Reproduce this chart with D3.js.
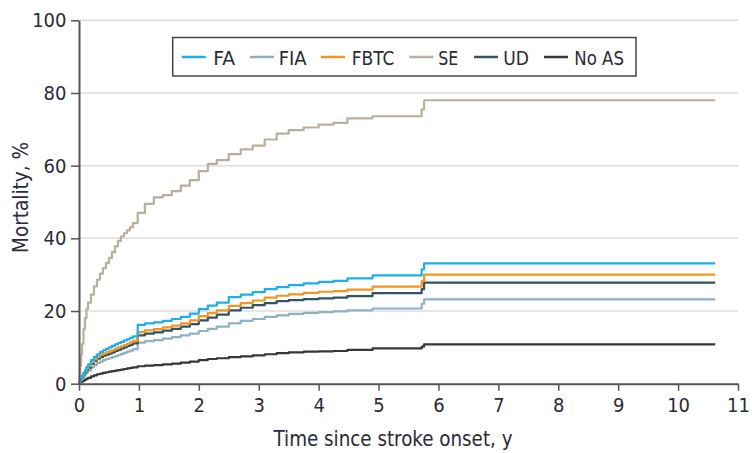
<!DOCTYPE html>
<html>
<head>
<meta charset="utf-8">
<script src="https://cdn.jsdelivr.net/npm/d3@7"></script>
<style>
  body { margin: 0; background: #ffffff; }
  svg { display: block; }
  text { font-family: "Liberation Sans Narrow", "DejaVu Sans Condensed", "Liberation Sans", Arial, sans-serif; fill: #2a2a38; }
</style>
</head>
<body>
<svg id="chart" width="752" height="453"></svg>
<script>
// Cumulative mortality (%) by time since stroke onset (years), step estimates
const years = [0, 0.01, 0.02, 0.035, 0.05, 0.075, 0.1, 0.125, 0.15, 0.2, 0.25, 0.3, 0.35, 0.4, 0.45,
  0.5, 0.55, 0.6, 0.65, 0.7, 0.75, 0.8, 0.85, 0.9, 0.98,
  1.1, 1.25, 1.4, 1.55, 1.7, 1.85, 2.0, 2.15, 2.3, 2.5, 2.7, 2.9, 3.1, 3.3, 3.5, 3.75,
  4.0, 4.25, 4.48, 4.9, 5.72, 5.76, 10.62];

const faValues = [0, 0.5, 1.0, 1.6, 2.2, 3.0, 3.8, 4.6, 5.3, 6.5, 7.4, 8.1, 8.7, 9.2, 9.6,
  10.0, 10.4, 10.8, 11.2, 11.5, 11.9, 12.2, 12.6, 13.0, 16.2,
  16.6, 16.9, 17.3, 17.8, 18.4, 19.3, 20.5, 21.5, 22.3, 23.8, 24.5, 25.2, 26.0, 26.6, 27.1, 27.6,
  28.0, 28.3, 29.0, 29.8, 31.5, 33.1, 33.1];

const fiaValues = [0, 0.3, 0.6, 1.0, 1.4, 2.0, 2.6, 3.1, 3.6, 4.5, 5.1, 5.7, 6.1, 6.5, 6.8,
  7.0, 7.3, 7.6, 7.9, 8.2, 8.5, 8.8, 9.1, 9.5, 11.3,
  11.7, 12.0, 12.4, 12.8, 13.3, 13.8, 14.5, 15.1, 15.7, 16.6, 17.3, 17.8, 18.4, 18.8, 19.2, 19.5,
  19.7, 19.9, 20.2, 20.7, 22.0, 23.2, 23.2];

const fbtcValues = [0, 0.45, 0.9, 1.4, 2.0, 2.8, 3.5, 4.2, 4.8, 5.9, 6.7, 7.4, 7.9, 8.3, 8.6,
  8.9, 9.2, 9.6, 10.0, 10.3, 10.6, 11.0, 11.4, 11.8, 14.2,
  14.7, 15.0, 15.5, 16.0, 16.6, 17.4, 18.6, 19.4, 20.2, 21.4, 22.2, 22.9, 23.7, 24.2, 24.6, 25.0,
  25.3, 25.5, 25.9, 26.7, 28.2, 30.0, 30.0];

const seValues = [0, 2.5, 5.0, 8.0, 11.0, 15.0, 18.0, 20.5, 22.3, 24.5, 26.8, 28.6, 30.3, 31.8, 33.2,
  34.6, 36.2, 37.8, 39.3, 40.5, 41.4, 42.2, 43.0, 44.2, 47.0,
  49.5, 51.3, 51.9, 53.0, 54.5, 56.0, 58.5, 60.5, 61.5, 63.2, 64.5, 65.5, 67.2, 68.8, 69.8, 70.5,
  71.3, 71.8, 73.0, 73.6, 75.5, 78.0, 78.0];

const udValues = [0, 0.4, 0.8, 1.3, 1.8, 2.5, 3.2, 3.8, 4.4, 5.5, 6.3, 6.9, 7.3, 7.7, 8.0,
  8.3, 8.6, 9.0, 9.3, 9.7, 10.0, 10.4, 10.7, 11.1, 13.3,
  13.8, 14.1, 14.6, 15.1, 15.7, 16.4, 17.4, 18.2, 19.0, 20.2, 20.9, 21.6, 22.2, 22.7, 23.0, 23.3,
  23.5, 23.7, 24.1, 24.9, 26.0, 27.8, 27.8];

const noAsValues = [0, 0.15, 0.3, 0.45, 0.6, 0.85, 1.1, 1.35, 1.6, 2.0, 2.3, 2.6, 2.8, 3.0, 3.15,
  3.3, 3.45, 3.6, 3.75, 3.9, 4.05, 4.2, 4.35, 4.5, 4.8,
  5.0, 5.1, 5.3, 5.5, 5.8, 6.1, 6.5, 6.8, 7.0, 7.3, 7.5, 7.8, 8.1, 8.4, 8.6, 8.8,
  8.9, 9.0, 9.3, 9.7, 10.2, 10.8, 10.8];

const seriesNames = ["FA", "FIA", "FBTC", "SE", "UD", "No AS"];
const seriesValues = [faValues, fiaValues, fbtcValues, seValues, udValues, noAsValues];
const seriesColors = ["#1cb0ea", "#8eb1c4", "#f7941e", "#b9af9f", "#2f5467", "#3a3636"];

const xTicks = [0, 1, 2, 3, 4, 5, 6, 7, 8, 9, 10, 11];
const yTicks = [0, 20, 40, 60, 80, 100];

const svg = d3.select("#chart");

const x = d3.scaleLinear().domain([0, 11]).range([79, 738]);
const y = d3.scaleLinear().domain([0, 100]).range([383.7, 20.3]);

// Horizontal gridlines
svg.append("g")
  .selectAll("line")
  .data(yTicks.filter(d => d > 0))
  .join("line")
  .attr("x1", x(0))
  .attr("x2", x(11))
  .attr("y1", d => y(d))
  .attr("y2", d => y(d))
  .attr("stroke", "#dedede")
  .attr("stroke-width", 1.5);

// Cumulative mortality step curves
const line = d3.line()
  .x(d => x(d[0]))
  .y(d => y(d[1]))
  .curve(d3.curveStepAfter);

const drawOrder = [3, 5, 1, 4, 2, 0];
svg.append("g")
  .selectAll("path")
  .data(drawOrder)
  .join("path")
  .attr("d", i => line(years.map((t, k) => [t, seriesValues[i][k]])))
  .attr("fill", "none")
  .attr("stroke", i => seriesColors[i])
  .attr("stroke-width", 2.2)
  .attr("stroke-linejoin", "round");

// Axes
const xAxis = svg.append("g")
  .attr("transform", `translate(0,${y(0)})`)
  .call(d3.axisBottom(x).tickValues(xTicks).tickSize(7).tickSizeOuter(0).tickPadding(7.5));

const yAxis = svg.append("g")
  .attr("transform", `translate(${x(0)},0)`)
  .call(d3.axisLeft(y).tickValues(yTicks).tickSize(8).tickSizeOuter(0).tickPadding(4.5));

[xAxis, yAxis].forEach(g => {
  g.select(".domain").attr("stroke", "#555555").attr("stroke-width", 2);
  g.selectAll(".tick line").attr("stroke", "#555555").attr("stroke-width", 1.5);
  g.selectAll(".tick text")
    .attr("fill", "#2a2a38")
    .style("font-size", "20px")
    .attr("font-family", null);
});

// Axis titles
svg.append("text")
  .attr("x", 393)
  .attr("y", 446)
  .attr("text-anchor", "middle")
  .attr("textLength", 239)
  .attr("lengthAdjust", "spacingAndGlyphs")
  .style("font-size", "22px")
  .text("Time since stroke onset, y");

svg.append("text")
  .attr("transform", "translate(28,197.5) rotate(-90)")
  .attr("text-anchor", "middle")
  .attr("textLength", 111)
  .attr("lengthAdjust", "spacingAndGlyphs")
  .style("font-size", "22px")
  .text("Mortality, %");

// Legend
const legend = svg.append("g");
legend.append("rect")
  .attr("x", 172.7)
  .attr("y", 37.5)
  .attr("width", 463.3)
  .attr("height", 38.5)
  .attr("fill", "#ffffff")
  .attr("stroke", "#444444")
  .attr("stroke-width", 1.5);

const legendLineX = [181.7, 250, 321, 409.3, 474, 544];
const legendTextX = [213.3, 278.7, 351.7, 438.3, 503.3, 574.3];
const legendTextW = [21.7, 28, 42.7, 20, 25.7, 49.7];

const items = legend.selectAll("g.item")
  .data(seriesNames)
  .join("g")
  .attr("class", "item");

items.append("line")
  .attr("x1", (d, i) => legendLineX[i])
  .attr("x2", (d, i) => legendLineX[i] + 24)
  .attr("y1", 57)
  .attr("y2", 57)
  .attr("stroke", (d, i) => seriesColors[i])
  .attr("stroke-width", 2.5);

items.append("text")
  .attr("x", (d, i) => legendTextX[i])
  .attr("y", 65)
  .attr("textLength", (d, i) => legendTextW[i])
  .attr("lengthAdjust", "spacingAndGlyphs")
  .style("font-size", "20px")
  .text(d => d);
</script>
</body>
</html>
